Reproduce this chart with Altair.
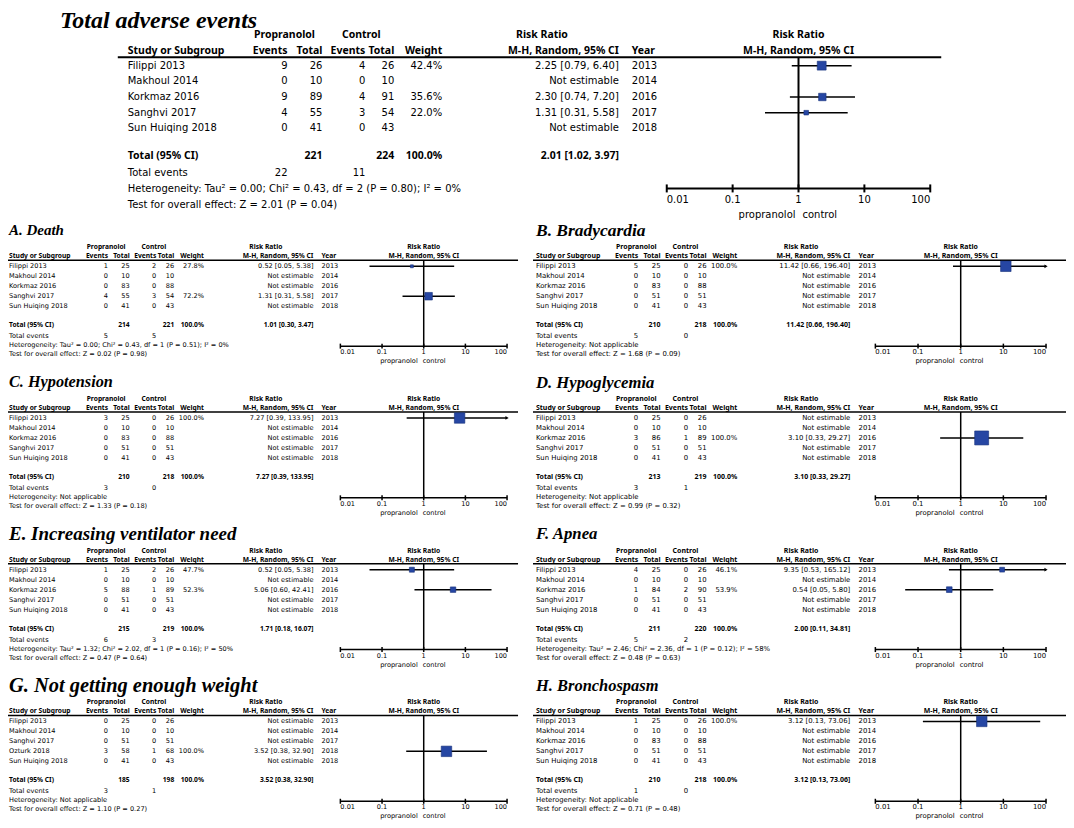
import altair as alt
import pandas as pd

# ---------------- data ----------------
PANELS = ["TOT", "A", "B", "C", "D", "E", "F", "G", "H"]
TITLE = {"TOT": "Total adverse events", "A": "A. Death", "B": "B. Bradycardia",
         "C": "C. Hypotension", "D": "D. Hypoglycemia", "E": "E. Increasing ventilator need",
         "F": "F. Apnea", "G": "G. Not getting enough weight", "H": "H. Bronchospasm"}
S5 = ["Filippi 2013", "Makhoul 2014", "Korkmaz 2016", "Sanghvi 2017", "Sun Huiqing 2018"]
STUDY = {p: S5 for p in PANELS}
STUDY["G"] = ["Filippi 2013", "Makhoul 2014", "Sanghvi 2017", "Ozturk 2018", "Sun Huiqing 2018"]
Y5 = [2013, 2014, 2016, 2017, 2018]
YEAR = {p: Y5 for p in PANELS}
YEAR["G"] = [2013, 2014, 2017, 2018, 2018]

PROP_EV = {"TOT": [9, 0, 9, 4, 0], "A": [1, 0, 0, 4, 0], "B": [5, 0, 0, 0, 0], "C": [3, 0, 0, 0, 0],
           "D": [0, 0, 3, 0, 0], "E": [1, 0, 5, 0, 0], "F": [4, 0, 1, 0, 0], "G": [0, 0, 0, 3, 0],
           "H": [1, 0, 0, 0, 0]}
PROP_N = {"TOT": [26, 10, 89, 55, 41], "A": [25, 10, 83, 55, 41], "B": [25, 10, 83, 51, 41],
          "C": [25, 10, 83, 51, 41], "D": [25, 10, 86, 51, 41], "E": [25, 10, 88, 51, 41],
          "F": [25, 10, 84, 51, 41], "G": [25, 10, 51, 58, 41], "H": [25, 10, 83, 51, 41]}
CTRL_EV = {"TOT": [4, 0, 4, 3, 0], "A": [2, 0, 0, 3, 0], "B": [0, 0, 0, 0, 0], "C": [0, 0, 0, 0, 0],
           "D": [0, 0, 1, 0, 0], "E": [2, 0, 1, 0, 0], "F": [0, 0, 2, 0, 0], "G": [0, 0, 0, 1, 0],
           "H": [0, 0, 0, 0, 0]}
CTRL_N = {"TOT": [26, 10, 91, 54, 43], "A": [26, 10, 88, 54, 43], "B": [26, 10, 88, 51, 43],
          "C": [26, 10, 88, 51, 43], "D": [26, 10, 89, 51, 43], "E": [26, 10, 89, 51, 43],
          "F": [26, 10, 90, 51, 43], "G": [26, 10, 51, 68, 43], "H": [26, 10, 88, 51, 43]}
N = None
WEIGHT = {"TOT": [42.4, N, 35.6, 22.0, N], "A": [27.8, N, N, 72.2, N], "B": [100.0, N, N, N, N],
          "C": [100.0, N, N, N, N], "D": [N, N, 100.0, N, N], "E": [47.7, N, 52.3, N, N],
          "F": [46.1, N, 53.9, N, N], "G": [N, N, N, 100.0, N], "H": [100.0, N, N, N, N]}
RR = {"TOT": [2.25, N, 2.30, 1.31, N], "A": [0.52, N, N, 1.31, N], "B": [11.42, N, N, N, N],
      "C": [7.27, N, N, N, N], "D": [N, N, 3.10, N, N], "E": [0.52, N, 5.06, N, N],
      "F": [9.35, N, 0.54, N, N], "G": [N, N, N, 3.52, N], "H": [3.12, N, N, N, N]}
LO = {"TOT": [0.79, N, 0.74, 0.31, N], "A": [0.05, N, N, 0.31, N], "B": [0.66, N, N, N, N],
      "C": [0.39, N, N, N, N], "D": [N, N, 0.33, N, N], "E": [0.05, N, 0.60, N, N],
      "F": [0.53, N, 0.05, N, N], "G": [N, N, N, 0.38, N], "H": [0.13, N, N, N, N]}
HI = {"TOT": [6.40, N, 7.20, 5.58, N], "A": [5.38, N, N, 5.58, N], "B": [196.40, N, N, N, N],
      "C": [133.95, N, N, N, N], "D": [N, N, 29.27, N, N], "E": [5.38, N, 42.41, N, N],
      "F": [165.12, N, 5.80, N, N], "G": [N, N, N, 32.90, N], "H": [73.06, N, N, N, N]}
TOTAL_N1 = {"TOT": 221, "A": 214, "B": 210, "C": 210, "D": 213, "E": 215, "F": 211, "G": 185, "H": 210}
TOTAL_N2 = {"TOT": 224, "A": 221, "B": 218, "C": 218, "D": 219, "E": 219, "F": 220, "G": 198, "H": 218}
POOLED = {"TOT": (2.01, 1.02, 3.97), "A": (1.01, 0.30, 3.47), "B": (11.42, 0.66, 196.40),
          "C": (7.27, 0.39, 133.95), "D": (3.10, 0.33, 29.27), "E": (1.71, 0.18, 16.07),
          "F": (2.00, 0.11, 34.81), "G": (3.52, 0.38, 32.90), "H": (3.12, 0.13, 73.06)}
TOTAL_EV1 = {"TOT": 22, "A": 5, "B": 5, "C": 3, "D": 3, "E": 6, "F": 5, "G": 3, "H": 1}
TOTAL_EV2 = {"TOT": 11, "A": 5, "B": 0, "C": 0, "D": 1, "E": 3, "F": 2, "G": 1, "H": 0}
NA = "Heterogeneity: Not applicable"
HET = {"TOT": "Heterogeneity: Tau² = 0.00; Chi² = 0.43, df = 2 (P = 0.80); I² = 0%",
       "A": "Heterogeneity: Tau² = 0.00; Chi² = 0.43, df = 1 (P = 0.51); I² = 0%",
       "B": NA, "C": NA, "D": NA,
       "E": "Heterogeneity: Tau² = 1.32; Chi² = 2.02, df = 1 (P = 0.16); I² = 50%",
       "F": "Heterogeneity: Tau² = 2.46; Chi² = 2.36, df = 1 (P = 0.12); I² = 58%",
       "G": NA, "H": NA}
TEST = {"TOT": "Test for overall effect: Z = 2.01 (P = 0.04)",
        "A": "Test for overall effect: Z = 0.02 (P = 0.98)",
        "B": "Test for overall effect: Z = 1.68 (P = 0.09)",
        "C": "Test for overall effect: Z = 1.33 (P = 0.18)",
        "D": "Test for overall effect: Z = 0.99 (P = 0.32)",
        "E": "Test for overall effect: Z = 0.47 (P = 0.64)",
        "F": "Test for overall effect: Z = 0.48 (P = 0.63)",
        "G": "Test for overall effect: Z = 1.10 (P = 0.27)",
        "H": "Test for overall effect: Z = 0.71 (P = 0.48)"}
TICKS = [0.01, 0.1, 1, 10, 100]
TICK_LABELS = ["0.01", "0.1", "1", "10", "100"]
FAVOURS = ("propranolol", "control")

# ---------------- layout / style ----------------
SANS = "DejaVu Sans"
BOLD_SANS = "Noto Sans"
SERIF = "Liberation Serif"
BLUE = "#2646a3"
REL = dict(ev1=160, tot1=195, ev2=238, tot2=267, wt=315, ci=492, year=505,
           prop=157, ctrl=234, rr=415)
GEO = {"TOT": dict(ox=128, k=1.0, fs=10.0, bfs=10.5, tfs=24, tx=60, ax=(668, 932), ul=(118, 943),
                   sq=21, lw=2.0, cw=1.5, tk=4, dh=5.5, fav=(-3, 4), shift=0, arrow=30)}
for p in "ACEG":
    GEO[p] = dict(ox=3, k=0.62, fs=6.6, bfs=6.7, tfs=16, tx=3, ax=(335, 502), ul=(0, 513), sq=10.5,
                  lw=1.5, cw=1.5, tk=2.5, dh=4, fav=(-6, -1), shift=6, arrow=14)
for p in "BDFH":
    GEO[p] = dict(ox=537, k=0.64, fs=6.9, bfs=7.0, tfs=16, tx=537, ax=(877, 1048), ul=(534, 1074),
                  sq=10.5, lw=1.5, cw=1.5, tk=2.5, dh=4, fav=(-6, -1), shift=0, arrow=14)
GEO["D"]["sq"] = 14
for p, s in {"A": 15, "B": 17.5, "C": 16.3, "D": 16.7, "E": 19, "F": 16.8, "G": 20.5, "H": 16.5}.items():
    GEO[p]["tfs"] = s
TROW = {"A": 226, "B": 226, "C": 378, "D": 378, "E": 530, "F": 530, "G": 682, "H": 682}
YTOP = dict(title=15, h1=30, h2=46, ul=52.5, row0=61, dr=15.7, total=152, te=169, het=185,
            test=201, axis=184, tl=196, fav=211)
YREL = dict(title=0, h1=17, h2=26, ul=30, row0=36, dr=10, total=95, te=106, het=115,
            test=124, axis=116, tl=122, fav=131)


def px(x, p):
    return x - 8 + GEO[p]["shift"]


def py(y):
    return y - 4


texts = []


def T(t, x, y, align="left", fw="normal", fs=10.0, font=SANS, style="normal", base="middle"):
    texts.append(dict(t=str(t), x=x, y=y, align=align, fw=fw, fs=fs, font=font, style=style, base=base))


YP = alt.Y("y:Q", scale=None, axis=None)
layers = []

for p in PANELS:
    g = GEO[p]
    if p == "TOT":
        Y = dict(YTOP)
    else:
        Y = {kk: (TROW[p] + v if kk != "dr" else v) for kk, v in YREL.items()}
    k, ox, fs, bfs = g["k"], g["ox"], g["fs"], g["bfs"]
    X = {c: ox + r * k for c, r in REL.items()}
    pc = (g["ax"][0] + g["ax"][1]) / 2

    def B(t, x, y, align):
        T(t, x, y, align, "bold", bfs, BOLD_SANS)

    # title: baseline placed just under its visual centre
    T(TITLE[p], px(g["tx"], p), py(Y["title"] + 0.33 * g["tfs"]), "left", "bold", g["tfs"], SERIF,
      "italic", "alphabetic")
    for t, xx in [("Propranolol", X["prop"]), ("Control", X["ctrl"]), ("Risk Ratio", X["rr"]),
                  ("Risk Ratio", pc)]:
        B(t, px(xx, p), py(Y["h1"]), "center")
    B("Study or Subgroup", px(ox, p), py(Y["h2"]), "left")
    for t, c in [("Events", "ev1"), ("Total", "tot1"), ("Events", "ev2"), ("Total", "tot2"),
                 ("Weight", "wt"), ("M-H, Random, 95% CI", "ci")]:
        B(t, px(X[c], p), py(Y["h2"]), "right")
    B("Year", px(X["year"], p), py(Y["h2"]), "left")
    B("M-H, Random, 95% CI", px(pc, p), py(Y["h2"]), "center")

    est = []
    for i in range(5):
        yy = py(Y["row0"] + i * Y["dr"])
        T(STUDY[p][i], px(ox, p), yy, "left", "normal", fs)
        T(PROP_EV[p][i], px(X["ev1"], p), yy, "right", "normal", fs)
        T(PROP_N[p][i], px(X["tot1"], p), yy, "right", "normal", fs)
        T(CTRL_EV[p][i], px(X["ev2"], p), yy, "right", "normal", fs)
        T(CTRL_N[p][i], px(X["tot2"], p), yy, "right", "normal", fs)
        w = WEIGHT[p][i]
        if w is not None:
            T(f"{w:.1f}%", px(X["wt"], p), yy, "right", "normal", fs)
        if RR[p][i] is None:
            T("Not estimable", px(X["ci"], p), yy, "right", "normal", fs)
        else:
            T(f"{RR[p][i]:.2f} [{LO[p][i]:.2f}, {HI[p][i]:.2f}]", px(X["ci"], p), yy, "right", "normal", fs)
            est.append(dict(rr=RR[p][i], lo=LO[p][i], hi=HI[p][i], w=w, y=yy))
        T(YEAR[p][i], px(X["year"], p), yy, "left", "normal", fs)

    yt = py(Y["total"])
    B("Total (95% CI)", px(ox, p), yt, "left")
    B(TOTAL_N1[p], px(X["tot1"], p), yt, "right")
    B(TOTAL_N2[p], px(X["tot2"], p), yt, "right")
    B("100.0%", px(X["wt"], p), yt, "right")
    pe, pl, ph = POOLED[p]
    B(f"{pe:.2f} [{pl:.2f}, {ph:.2f}]", px(X["ci"], p), yt, "right")
    T("Total events", px(ox, p), py(Y["te"]), "left", "normal", fs)
    T(TOTAL_EV1[p], px(X["ev1"], p), py(Y["te"]), "right", "normal", fs)
    T(TOTAL_EV2[p], px(X["ev2"], p), py(Y["te"]), "right", "normal", fs)
    T(HET[p], px(ox, p), py(Y["het"]), "left", "normal", fs)
    T(TEST[p], px(ox, p), py(Y["test"]), "left", "normal", fs)
    T(FAVOURS[0], px(pc + g["fav"][0], p), py(Y["fav"]), "right", "normal", fs)
    T(FAVOURS[1], px(pc + g["fav"][1], p), py(Y["fav"]), "left", "normal", fs)

    # header underline (layout line)
    ul = pd.DataFrame({"x": [px(g["ul"][0], p)], "x2": [px(g["ul"][1], p)], "y": [py(Y["ul"])]})
    layers.append(alt.Chart(ul).mark_rule(color="black", strokeWidth=g["lw"]).encode(
        x=alt.X("x:Q", scale=None, axis=None), x2="x2:Q", y=YP))

    sc = alt.Scale(type="log", domain=[TICKS[0], TICKS[-1]],
                   range=[px(g["ax"][0], p), px(g["ax"][1], p)], clamp=True)

    def XL(f):
        return alt.X(f"{f}:Q", scale=sc, axis=None)

    ya = py(Y["axis"])
    axis_df = pd.DataFrame({"a": [TICKS[0]], "b": [TICKS[-1]], "y": [ya]})
    layers.append(alt.Chart(axis_df).mark_rule(color="black", strokeWidth=g["lw"]).encode(
        x=XL("a"), x2="b:Q", y=YP))
    vdf = pd.DataFrame({"v": [1], "y": [py(Y["ul"])], "y2": [ya]})
    layers.append(alt.Chart(vdf).mark_rule(color="black", strokeWidth=g["lw"]).encode(
        x=XL("v"), y=YP, y2="y2:Q"))
    tdf = pd.DataFrame({"v": TICKS, "y": [ya - g["tk"]] * 5, "y2": [ya + g["tk"]] * 5})
    layers.append(alt.Chart(tdf).mark_rule(color="black", strokeWidth=g["lw"]).encode(
        x=XL("v"), y=YP, y2="y2:Q"))
    for idx, al in [([0], "left"), ([1, 2, 3], "center"), ([4], "right")]:
        ldf = pd.DataFrame({"v": [TICKS[j] for j in idx], "t": [TICK_LABELS[j] for j in idx],
                            "y": [py(Y["tl"])] * len(idx)})
        layers.append(alt.Chart(ldf).mark_text(align=al, baseline="middle", font=SANS, fontSize=fs,
                                               color="black").encode(x=XL("v"), y=YP, text="t:N"))

    edf = pd.DataFrame(est)
    layers.append(alt.Chart(edf).mark_rule(color="black", strokeWidth=g["cw"]).encode(
        x=XL("lo"), x2="hi:Q", y=YP))
    layers.append(alt.Chart(edf).mark_point(shape="square", filled=True, opacity=1, color=BLUE,
                                            stroke="#15307a", strokeWidth=0.6).encode(
        x=XL("rr"), y=YP,
        size=alt.Size("w:Q", scale=alt.Scale(type="pow", exponent=2, domain=[0, 100],
                                             range=[0, g["sq"] ** 2]), legend=None)))
    adf = edf[edf["hi"] > TICKS[-1]]
    if len(adf):
        layers.append(alt.Chart(adf).mark_point(shape="triangle-right", filled=True, opacity=1,
                                                color="black", size=g["arrow"]).encode(
            x=XL("hi"), y=YP))
    dh = g["dh"]
    ddf = pd.DataFrame({"v": [pl, pe, ph], "y": [yt, yt - dh, yt], "y2": [yt, yt + dh, yt]})
    layers.append(alt.Chart(ddf).mark_area(color="black", opacity=1).encode(
        x=XL("v"), y=YP, y2="y2:Q", order="v:Q"))

tdf_all = pd.DataFrame(texts)
for (al, fw, fsz, font, style, base), grp in tdf_all.groupby(
        ["align", "fw", "fs", "font", "style", "base"]):
    layers.append(alt.Chart(grp).mark_text(align=al, baseline=base, font=font, fontSize=fsz,
                                           fontWeight=fw, fontStyle=style, color="black").encode(
        x=alt.X("x:Q", scale=None, axis=None), y=YP, text="t:N"))

chart = alt.layer(*layers).resolve_scale(x="independent", size="independent").properties(
    width=1060, height=812, padding=0, autosize=alt.AutoSizeParams(type="none"),
    background="white").configure_view(stroke=None)

chart.save("out.html", embed_options={"renderer": "svg", "actions": False})
